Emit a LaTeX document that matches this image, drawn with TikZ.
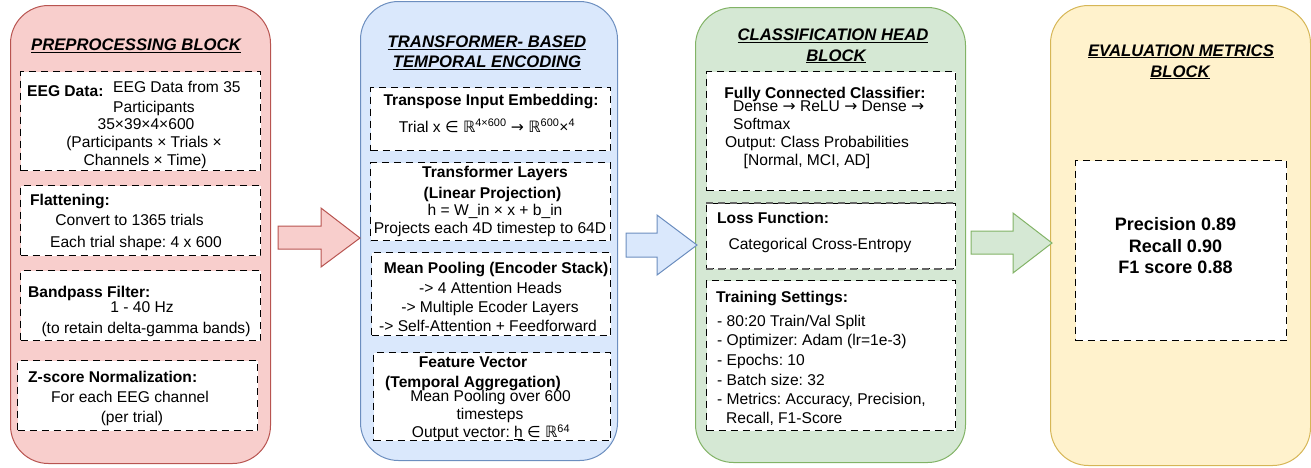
\documentclass[tikz,border=0pt]{standalone}
\usepackage{fontspec}
\setmainfont{Liberation Sans}
\newfontfamily\symf{DejaVu Sans}
\frenchspacing
\definecolor{pinkF}{HTML}{F8CECC}\definecolor{pinkD}{HTML}{B85450}
\definecolor{blueF}{HTML}{DAE8FC}\definecolor{blueD}{HTML}{6C8EBF}
\definecolor{greenF}{HTML}{D5E8D4}\definecolor{greenD}{HTML}{82B366}
\definecolor{yelF}{HTML}{FFF2CC}\definecolor{yelD}{HTML}{D6B656}
\definecolor{grayD}{HTML}{666666}
\newcommand{\bodyfs}{\fontsize{15.6}{18}\selectfont}
\newcommand{\titlefs}{\fontsize{16.7}{20}\selectfont\bfseries\itshape}
\newcommand{\metfs}{\fontsize{18}{22}\selectfont\bfseries}
\newcommand{\ttl}[1]{\underline{#1}}
\begin{document}
\begin{tikzpicture}[x=1pt,y=-1pt,
  outer/.style={draw, rounded corners=38pt, line width=1pt, inner sep=0pt, anchor=north west},
  inbox/.style={draw=black, fill=white, dash pattern=on 7pt off 5pt, line width=1pt, inner sep=0pt, anchor=north west},
  tx/.style={anchor=base, inner sep=0pt, font=\bodyfs},
  txl/.style={tx, anchor=base west},
  bt/.style={anchor=base, inner sep=0pt, font=\bodyfs\bfseries},
  btl/.style={bt, anchor=base west},
  ttlst/.style={anchor=base, inner sep=0pt, font=\titlefs},
  met/.style={anchor=base, inner sep=0pt, font=\metfs},
  barrow/.style={line width=1pt, line join=miter}]
\useasboundingbox (0,0) rectangle (1311,467);

% outer blocks
\node[outer, fill=pinkF, draw=pinkD, minimum width=260pt, minimum height=458pt] (pre) at (10,5) {};
\node[outer, fill=blueF, draw=blueD, minimum width=257pt, minimum height=459pt] (enc) at (360,1) {};
\node[outer, fill=greenF, draw=greenD, minimum width=270pt, minimum height=455pt] (cls) at (695,7) {};
\node[outer, fill=yelF, draw=yelD, minimum width=260pt, minimum height=460pt] (eva) at (1050,5) {};

% block arrows
\draw[barrow, fill=pinkF, draw=pinkD] (278,226) -- (321,226) -- (321,208) -- (360,238) -- (321,267) -- (321,249) -- (278,249) -- cycle;
\draw[barrow, fill=blueF, draw=blueD] (626,233) -- (657,233) -- (657,215) -- (697,245) -- (657,275) -- (657,257) -- (626,257) -- cycle;
\draw[barrow, fill=greenF, draw=greenD] (971,231) -- (1013,231) -- (1013,213) -- (1052,243) -- (1013,273) -- (1013,254) -- (971,254) -- cycle;

% titles
\node[ttlst] (preT) at (136,50.5) {\ttl{PREPROCESSING BLOCK}};
\node[ttlst] (encT1) at (487,47.5) {\ttl{TRANSFORMER- BASED}};
\node[ttlst] (encT2) at (487,67.5) {\ttl{TEMPORAL ENCODING}};
\node[ttlst] (clsT1) at (833,40.5) {\ttl{CLASSIFICATION HEAD}};
\node[ttlst] (clsT2) at (836,61) {\ttl{BLOCK}};
\node[ttlst] (evaT1) at (1181,56) {\ttl{EVALUATION METRICS}};
\node[ttlst] (evaT2) at (1180,77) {\ttl{BLOCK}};

% inner boxes - preprocessing
\node[inbox, minimum width=240pt, minimum height=99pt] (p1) at (20,71) {};
\node[inbox, minimum width=240pt, minimum height=70pt] (p2) at (20,185) {};
\node[inbox, minimum width=240pt, minimum height=70pt] (p3) at (20,270) {};
\node[inbox, minimum width=240pt, minimum height=70pt] (p4) at (17,360) {};
% encoding
\node[inbox, minimum width=240pt, minimum height=63pt] (b1) at (370,87) {};
\node[inbox, minimum width=240pt, minimum height=78pt] (b2) at (370,162) {};
\node[inbox, minimum width=239pt, minimum height=83pt] (b3) at (371,252) {};
\node[inbox, minimum width=237pt, minimum height=88pt] (b4) at (373,352) {};
% classification
\node[inbox, minimum width=249pt, minimum height=119pt] (g1) at (706,71) {};
\node[inbox, minimum width=249pt, minimum height=65pt] (g2) at (706,203) {};
\draw[grayD, line width=2pt, dash pattern=on 7pt off 5pt] (g2.north west) -- (g2.north east);
\draw[grayD, line width=2pt, dash pattern=on 7pt off 5pt] (g2.south west) -- (g2.south east);
\node[inbox, minimum width=249pt, minimum height=150pt] (g3) at (706,280) {};
% evaluation
\node[inbox, minimum width=211pt, minimum height=180pt] (y1) at (1075,160) {};

% texts preprocessing
\node[btl] (p1a) at (27,96.5) {EEG Data:};
\node[txl] (p1b) at (113,92.5) {EEG Data from 35};
\node[txl] (p1c) at (113,112.5) {Participants};
\node[tx] (p1d) at (146,129.5) {35×39×4×600};
\node[tx] (p1e) at (144,147.5) {(Participants × Trials ×};
\node[tx] (p1f) at (145,165.5) {Channels × Time)};
\node[btl] (p2a) at (30,205.5) {Flattening:};
\node[tx] (p2b) at (129.5,225.5) {Convert to 1365 trials};
\node[tx] (p2c) at (136,247.5) {Each trial shape: 4 x 600};
\node[btl] (p3a) at (28,297.5) {Bandpass Filter:};
\node[tx] (p3b) at (142,312.5) {1 - 40 Hz};
\node[tx] (p3c) at (146,333.5) {(to retain delta-gamma bands)};
\node[btl] (p4a) at (28,382.5) {Z-score Normalization:};
\node[tx] (p4b) at (130,402.5) {For each EEG channel};
\node[tx] (p4c) at (132,422.5) {(per trial)};

% texts encoding
\node[bt] (b1a) at (491,105) {Transpose Input Embedding:};
\node[tx] (b1b) at (487,132) {Trial x {\symf∈} {\symf ℝ}\textsuperscript{4×600} {\symf→} {\symf ℝ}\textsuperscript{600}×\textsuperscript{4}};
\node[bt] (b2a) at (495,177.5) {Transformer Layers};
\node[bt] (b2b) at (492.5,198.5) {(Linear Projection)};
\node[tx] (b2c) at (495,215.5) {h = W\_in × x + b\_in};
\node[tx] (b2d) at (490,233.5) {Projects each 4D timestep to 64D};
\node[bt] (b3a) at (496,273.5) {Mean Pooling (Encoder Stack)};
\node[tx] (b3b) at (490.5,293.5) {-> 4 Attention Heads};
\node[tx] (b3c) at (490,312.5) {-> Multiple Ecoder Layers};
\node[tx] (b3d) at (488,331.5) {-> Self-Attention + Feedforward};
\node[bt] (b4a) at (473,367.5) {Feature Vector};
\node[bt] (b4b) at (473,387.5) {(Temporal Aggregation)};
\node[tx] (b4c) at (490.5,401.5) {Mean Pooling over 600};
\node[tx] (b4d) at (490,419.5) {timesteps};
\node[tx] (b4e) at (491,437.5) {Output vector: \underline{h} {\symf∈} {\symf ℝ}\textsuperscript{64}};

% texts classification
\node[bt] (g1a) at (825,98.5) {Fully Connected Classifier:};
\node[txl] (g1b) at (733,111.5) {Dense {\symf→} ReLU {\symf→} Dense {\symf→}};
\node[txl] (g1c) at (733,129.5) {Softmax};
\node[tx] (g1d) at (817,147.5) {Output: Class Probabilities};
\node[tx] (g1e) at (807,165.5) {[Normal, MCI, AD]};
\node[btl] (g2a) at (717,223.5) {Loss Function:};
\node[tx] (g2b) at (820,249.5) {Categorical Cross-Entropy};
\node[btl] (g3a) at (716,302.5) {Training Settings:};
\node[txl] (g3b) at (717,326.5) {- 80:20 Train/Val Split};
\node[txl] (g3c) at (717,345.5) {- Optimizer: Adam (lr=1e-3)};
\node[txl] (g3d) at (717,365) {- Epochs: 10};
\node[txl] (g3e) at (717,385) {- Batch size: 32};
\node[txl] (g3f) at (717,404.5) {- Metrics: Accuracy, Precision,};
\node[txl] (g3g) at (726,423.5) {Recall, F1-Score};

% texts evaluation
\node[met] (y1a) at (1175.5,230) {Precision 0.89};
\node[met] (y1b) at (1175.5,252) {Recall 0.90};
\node[met] (y1c) at (1175.5,273.5) {F1 score 0.88};
\end{tikzpicture}
\end{document}
